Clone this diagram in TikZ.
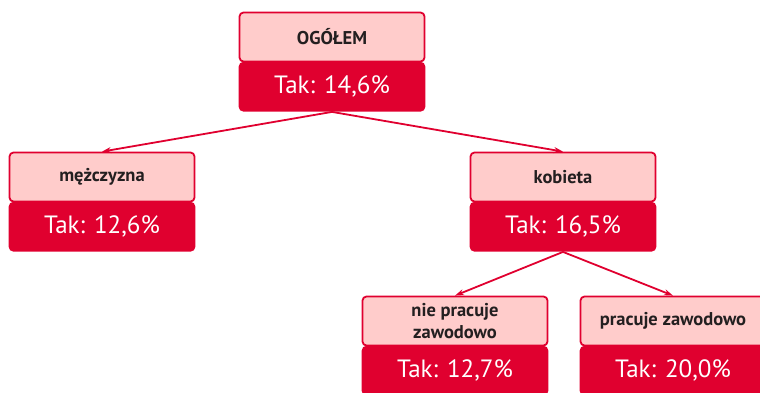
\documentclass[tikz,border=0pt]{standalone}
\usepackage{fontspec}
\setmainfont{PT Sans}
\usetikzlibrary{positioning, arrows.meta}
\definecolor{crimson}{HTML}{E0002F}
\definecolor{rosy}{HTML}{FFCCCB}
\definecolor{ink}{HTML}{231F20}

\begin{document}
\begin{tikzpicture}[x=1pt, y=-1pt,
    group/.style={draw=crimson, line width=1.8pt, fill=rosy, rounded corners=4pt,
        minimum width=185pt, minimum height=49pt, inner sep=2pt, align=center,
        text=ink, font=\bfseries\fontsize{18.5}{21.5}\selectfont},
    share/.style={fill=crimson, rounded corners=5pt, minimum width=186.8pt,
        minimum height=50pt, text=white, font=\fontsize{25}{27}\selectfont,
        below=-0.9pt of #1},
    link/.style={line width=1.8pt, crimson, -{Stealth[length=9pt, width=6pt]}}]
    \useasboundingbox (0,0) rectangle (760,392);
    \clip (0,0) rectangle (760,392);
    % Groups
    \node (ogol) [group] at (332,37) {OGÓŁEM};
    \node (mez) [group] at (102,177) {mężczyzna};
    \node (kob) [group] at (563,177) {kobieta};
    \node (nie) [group] at (455,321) {nie pracuje\\zawodowo};
    \node (pra) [group] at (673,321) {pracuje zawodowo};
    % Shares
    \node (ogolval) [share=ogol] {Tak: 14,6\%};
    \node (mezval) [share=mez] {Tak: 12,6\%};
    \node (kobval) [share=kob] {Tak: 16,5\%};
    \node (nieval) [share=nie] {Tak: 12,7\%};
    \node (praval) [share=pra] {Tak: 20,0\%};
    % Splits
    \draw [link] (ogolval.south) -- (mez.north);
    \draw [link] (ogolval.south) -- (kob.north);
    \draw [link] (kobval.south) -- (nie.north);
    \draw [link] (kobval.south) -- (pra.north);
\end{tikzpicture}
\end{document}
